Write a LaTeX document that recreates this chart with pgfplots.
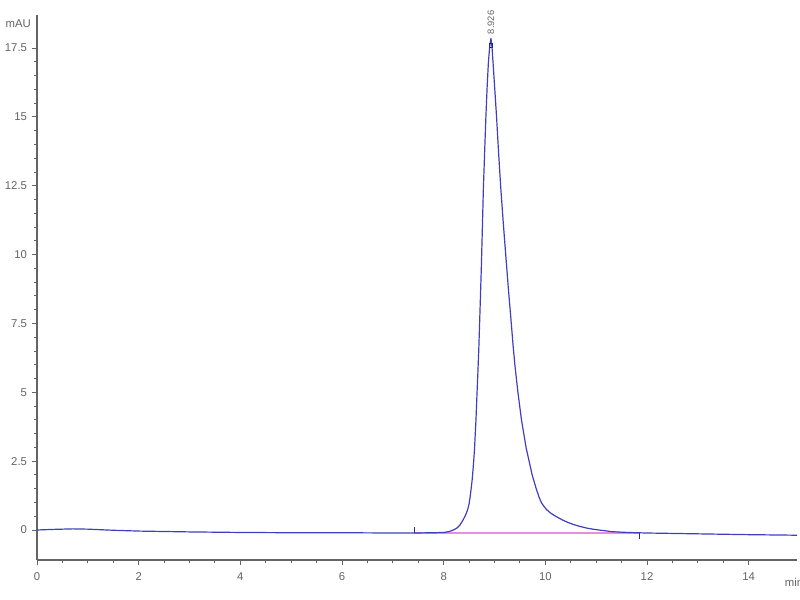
\documentclass[border=0pt]{standalone}
\usepackage{fontspec}
\setmainfont{Liberation Sans}
\usepackage{pgfplots}
\pgfplotsset{compat=1.18}
\definecolor{trace}{RGB}{62,62,190}
\definecolor{bl}{RGB}{232,140,228}
\definecolor{axgray}{RGB}{100,100,100}
\begin{document}
\begin{tikzpicture}
\path[use as bounding box] (-27.75pt,-30pt) rectangle (572.25pt,420pt);
\begin{axis}[at={(0,0)}, anchor=south west, scale only axis,
  width=570pt, height=408.75pt,
  xmin=0, xmax=14.95, ymin=-1.09, ymax=18.7,
  axis x line*=bottom, axis y line*=left,
  axis line style={axgray, line width=1pt, -},
  xtick={0,2,4,6,8,10,12,14}, ytick={0,2.5,5,7.5,10,12.5,15,17.5},
  minor x tick num=3, minor y tick num=4,
  tick align=outside, major tick length=4pt, minor tick length=2.5pt,
  every tick/.style={axgray, line width=0.7pt},
  ticklabel style={font=\fontsize{8.5}{10}\selectfont, text=axgray},
  xticklabel style={yshift=-2pt},
  /pgf/number format/assume math mode=true,
  /pgf/number format/fixed,
  clip=false]
% integration baseline
\addplot[bl, line width=1.4pt] coordinates {(7.42,-0.12) (11.85,-0.12)};
\addplot[trace!70!black, line width=0.6pt] coordinates {(7.42,-0.12) (7.42,0.12)};
\addplot[trace!70!black, line width=0.6pt] coordinates {(11.85,-0.12) (11.85,-0.34)};
% chromatogram
\addplot[trace, line width=0.9pt, line join=round] coordinates {
(0,0.0) (0.3,0.02) (0.7,0.04) (1.0,0.03) (1.5,-0.01) (2,-0.04) (3,-0.07)
(4,-0.09) (5,-0.1) (6,-0.1) (7,-0.11) (7.4,-0.11) (7.8,-0.1) (8.0,-0.09)
(8.1,-0.06) (8.18,-0.01) (8.26,0.07) (8.32,0.18) (8.38,0.36) (8.43,0.54)
(8.47,0.73) (8.50,0.95) (8.52,1.2) (8.54,1.5) (8.56,1.82) (8.575,2.15) (8.59,2.5)
(8.605,2.9) (8.615,3.27) (8.635,4.0) (8.65,4.72) (8.67,5.6) (8.69,6.54)
(8.715,8.0) (8.74,9.5) (8.76,10.9) (8.78,12.35) (8.805,13.7) (8.83,15)
(8.855,16.1) (8.88,17) (8.905,17.55) (8.93,17.85)
(8.95,17.55) (8.97,17) (9.005,16.0) (9.04,15) (9.08,13.7) (9.12,12.5)
(9.17,11.2) (9.22,10) (9.275,8.7) (9.33,7.5) (9.365,6.7) (9.40,6) (9.43,5.5)
(9.46,5) (9.495,4.5) (9.53,4) (9.575,3.5) (9.62,3) (9.68,2.5) (9.74,2)
(9.78,1.75) (9.82,1.5) (9.87,1.22) (9.92,1.0) (9.975,0.85) (10.03,0.73)
(10.1,0.62) (10.18,0.52) (10.26,0.44) (10.34,0.36) (10.45,0.27) (10.55,0.2)
(10.68,0.13) (10.81,0.07) (10.93,0.03) (11.05,0.0) (11.18,-0.03) (11.3,-0.06)
(11.55,-0.085) (11.8,-0.1) (12,-0.11) (13,-0.14) (14,-0.17) (14.95,-0.19)};
\addplot[trace!60!black, only marks, mark=square, mark size=1.3pt, line width=0.5pt] coordinates {(8.93,17.6)};
\node[rotate=90, anchor=west, font=\fontsize{7}{8}\selectfont, text=axgray, inner sep=1pt] at (axis cs:8.93,17.95) {8.926};
\node[font=\fontsize{8.5}{10}\selectfont, text=axgray] at (axis cs:-0.37,18.4) {mAU};
\node[anchor=west, font=\fontsize{8.5}{10}\selectfont, text=axgray] at (axis cs:14.62,-1.9) {min};
\end{axis}
\end{tikzpicture}
\end{document}
